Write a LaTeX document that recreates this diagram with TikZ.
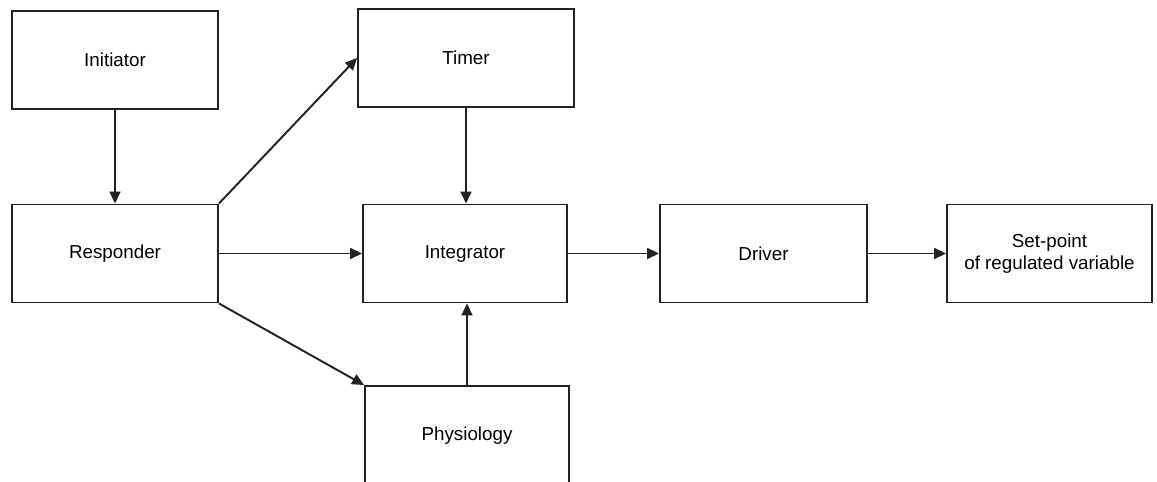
\documentclass[tikz,border=0pt]{standalone}
\usepackage{fontspec}
\setmainfont{Liberation Sans}
\usetikzlibrary{arrows.meta}
\definecolor{linegray}{HTML}{222222}

\begin{document}
\begin{tikzpicture}[x=0.02cm,y=-0.02cm,
  block/.style={draw=linegray,line width=1.1pt,minimum width=4.12cm,minimum height=1.96cm,
    align=center,inner sep=2pt,font=\fontsize{10.7}{12.8}\selectfont},
  link/.style={draw=linegray,line width=1.1pt,-{Triangle[length=6.8pt,width=6.2pt]}}]
  \useasboundingbox (0,0) rectangle (1157,482);
  \clip (0,0) rectangle (1157,482);

  % boxes
  \node[block] (init) at (115,60) {Initiator};
  \node[block] (resp) at (115,253.5) {Responder};
  \node[block,minimum width=4.32cm] (timer) at (466,58) {Timer};
  \node[block,minimum width=4.08cm] (integ) at (465,253.5) {Integrator};
  \node[block,minimum width=4.14cm] (driver) at (763.5,253.5) {Driver};
  \node[block,minimum width=4.1cm] (setp) at (1049.5,253.5) {Set-point\\of regulated variable};
  \node[block,minimum width=4.08cm,minimum height=2cm] (phys) at (467,436) {Physiology};

  % connectors
  \draw[link] (init.south) -- (resp.north);
  \draw[link] (resp.north east) -- (timer.west);
  \draw[link] (resp.east) -- (integ.west);
  \draw[link] (resp.south east) -- (phys.north west);
  \draw[link] (timer.south) -- (timer.south |- integ.north);
  \draw[link] (phys.north) -- (phys.north |- integ.south);
  \draw[link] (integ.east) -- (driver.west);
  \draw[link] (driver.east) -- (setp.west);
\end{tikzpicture}
\end{document}
